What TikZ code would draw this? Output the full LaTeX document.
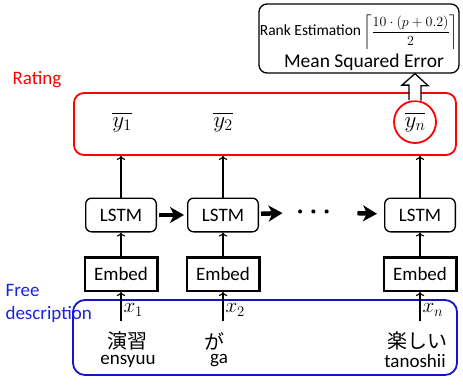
\documentclass[tikz,border=0pt]{standalone}
\usepackage{fix-cm}
\usepackage{fontspec}
\setmainfont{Carlito}
\newfontfamily\jpfont{Noto Sans CJK JP}
\usetikzlibrary{arrows}
\usetikzlibrary{arrows.meta}
\usepackage{xcolor}
\usepackage{amsmath}
\definecolor{freeblue}{RGB}{25,35,225}
\definecolor{boxblue}{RGB}{20,20,200}

\begin{document}
\begin{tikzpicture}[x=1pt,y=-1pt,
  font=\fontsize{19}{19}\selectfont,
  lstm/.style={draw, rounded corners=6pt, line width=1.3pt, minimum width=70.7pt, minimum height=33.7pt},
  embed/.style={draw, line width=2.5pt, minimum width=72.5pt, minimum height=33.5pt},
  up/.style={->, line width=1.1pt},
  rnn/.style={line width=4.5pt, -{Stealth[length=14pt, width=16pt, inset=4pt]}, shorten <=2pt, shorten >=3pt},
  jp/.style={font=\jpfont\fontsize{20}{20}\selectfont}]
\useasboundingbox (0,0) rectangle (463,384);
\node[draw, rounded corners=8pt, line width=1.3pt, minimum width=200pt, minimum height=69pt] (errbox) at (359,38.5) {};
\node (rank) at (359,32) {{\fontsize{15.5}{15.5}\selectfont Rank Estimation}\hspace{2pt}{\fontsize{14}{14}\selectfont$\displaystyle\left\lceil\frac{10\cdot(p+0.2)}{2}\right\rceil$}};
\node[font=\fontsize{19.5}{19.5}\selectfont] (mse) at (364,62) {Mean Squared Error};
\node[red, anchor=west] (ratinglbl) at (9,80) {Rating};
\node[draw=red, line width=1.8pt, rounded corners=10pt, minimum width=382pt, minimum height=62pt] (ratingbox) at (265,124) {};
\node[draw=boxblue, line width=1.8pt, rounded corners=12pt, minimum width=384pt, minimum height=75pt] (freebox) at (265,337.5) {};
\node[freeblue, anchor=west, align=left, font=\fontsize{19}{23}\selectfont] (freelbl) at (2,303.5) {Free\\description};
\foreach \i/\cx/\yx/\s/\wx/\word/\rx/\roma in {1/121/122/1/127/演習/128/ensyuu, 2/223/223/2/214/が/219/ga, n/420/415/n/417/楽しい/415/tanoshii} {
 \node[lstm] (lstm\i) at (\cx,215) {LSTM};
 \node[embed] (embed\i) at (\cx,274) {Embed};
 \node[font=\fontsize{23}{23}\selectfont] (ybar\i) at (\yx,122) {$\overline{y_\s}$};
 \coordinate (in\i) at (\cx,321);
 \draw[up] (in\i) -- (embed\i) node[pos=.38, right, inner sep=2pt, font=\fontsize{21}{21}\selectfont] {$x_\s$};
 \draw[up] (embed\i) -- (lstm\i);
 \draw[up] (lstm\i) -- (lstm\i |- ratingbox.south);
 \node[jp] (word\i) at (\wx,341) {\word};
 \node (roma\i) at (\rx,361) {\roma};
}
\node[font=\fontsize{26}{26}\selectfont\boldmath] (dots) at (316,212) {$\cdots$};
\draw[rnn] (lstm1) -- (lstm2);
\draw[rnn, shorten >=10pt] (lstm2) -- (dots);
\draw[rnn, shorten <=18pt, shorten >=7pt] (dots) -- (lstmn);
\node[draw=red, circle, line width=1.8pt, minimum size=42pt] (yncirc) at (ybarn) {};
\draw[line width=1.3pt, fill=white] ([xshift=-6pt]yncirc.north) -- ++(0,-15) -- ++(-7,0) -- (yncirc.north |- errbox.south) -- ++(13,12) -- ++(-7,0) -- ++(0,15);
\end{tikzpicture}
\end{document}
